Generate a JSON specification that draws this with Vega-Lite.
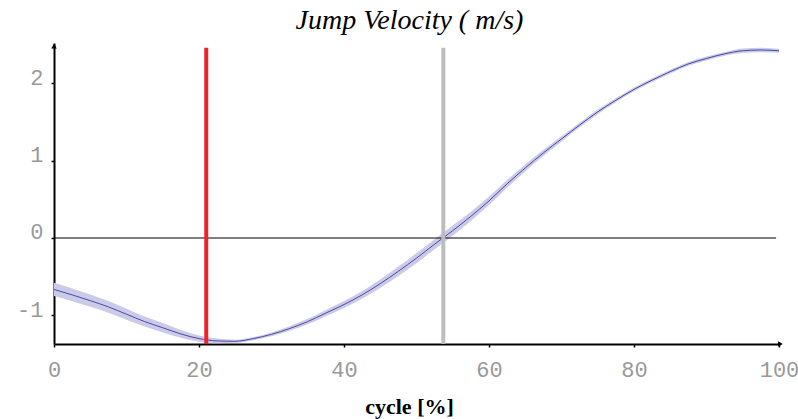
{
  "$schema": "https://vega.github.io/schema/vega-lite/v6.json",
  "width": 725,
  "height": 301,
  "autosize": "none",
  "padding": {"left": 54, "top": 43, "right": 19, "bottom": 75},
  "background": "white",
  "title": {
    "text": "Jump Velocity ( m/s)",
    "font": "Liberation Serif",
    "fontStyle": "italic",
    "fontWeight": "normal",
    "fontSize": 28,
    "color": "black",
    "anchor": "middle",
    "dx": -7,
    "dy": 24,
    "baseline": "alphabetic",
    "offset": 10
  },
  "config": {
    "view": {"stroke": null},
    "axis": {"grid": false}
  },
  "datasets": {
    "curve": [
      {"x": 0, "v": -0.665, "lo": -0.75, "hi": -0.58},
      {"x": 2.5, "v": -0.735, "lo": -0.818, "hi": -0.652},
      {"x": 5, "v": -0.81, "lo": -0.89, "hi": -0.73},
      {"x": 7.5, "v": -0.89, "lo": -0.965, "hi": -0.815},
      {"x": 10, "v": -0.985, "lo": -1.055, "hi": -0.915},
      {"x": 12.5, "v": -1.08, "lo": -1.145, "hi": -1.015},
      {"x": 15, "v": -1.16, "lo": -1.22, "hi": -1.10},
      {"x": 17.5, "v": -1.24, "lo": -1.29, "hi": -1.19},
      {"x": 20, "v": -1.30, "lo": -1.34, "hi": -1.26},
      {"x": 22.5, "v": -1.33, "lo": -1.36, "hi": -1.30},
      {"x": 25, "v": -1.335, "lo": -1.355, "hi": -1.315},
      {"x": 27.5, "v": -1.30, "lo": -1.32, "hi": -1.28},
      {"x": 30, "v": -1.245, "lo": -1.27, "hi": -1.22},
      {"x": 32.5, "v": -1.17, "lo": -1.20, "hi": -1.14},
      {"x": 35, "v": -1.08, "lo": -1.115, "hi": -1.045},
      {"x": 37.5, "v": -0.97, "lo": -1.01, "hi": -0.93},
      {"x": 40, "v": -0.86, "lo": -0.905, "hi": -0.815},
      {"x": 42.5, "v": -0.735, "lo": -0.785, "hi": -0.685},
      {"x": 45, "v": -0.59, "lo": -0.645, "hi": -0.535},
      {"x": 47.5, "v": -0.43, "lo": -0.49, "hi": -0.37},
      {"x": 50, "v": -0.26, "lo": -0.325, "hi": -0.195},
      {"x": 52.5, "v": -0.08, "lo": -0.145, "hi": -0.015},
      {"x": 55, "v": 0.095, "lo": 0.03, "hi": 0.16},
      {"x": 57.5, "v": 0.28, "lo": 0.22, "hi": 0.34},
      {"x": 60, "v": 0.48, "lo": 0.425, "hi": 0.535},
      {"x": 62.5, "v": 0.70, "lo": 0.65, "hi": 0.75},
      {"x": 65, "v": 0.905, "lo": 0.86, "hi": 0.95},
      {"x": 67.5, "v": 1.10, "lo": 1.06, "hi": 1.14},
      {"x": 70, "v": 1.28, "lo": 1.245, "hi": 1.315},
      {"x": 72.5, "v": 1.46, "lo": 1.43, "hi": 1.49},
      {"x": 75, "v": 1.63, "lo": 1.60, "hi": 1.66},
      {"x": 77.5, "v": 1.78, "lo": 1.755, "hi": 1.805},
      {"x": 80, "v": 1.92, "lo": 1.895, "hi": 1.945},
      {"x": 82.5, "v": 2.04, "lo": 2.015, "hi": 2.065},
      {"x": 85, "v": 2.15, "lo": 2.125, "hi": 2.175},
      {"x": 87.5, "v": 2.25, "lo": 2.225, "hi": 2.275},
      {"x": 90, "v": 2.32, "lo": 2.295, "hi": 2.345},
      {"x": 92.5, "v": 2.38, "lo": 2.355, "hi": 2.405},
      {"x": 95, "v": 2.42, "lo": 2.39, "hi": 2.45},
      {"x": 97.5, "v": 2.43, "lo": 2.40, "hi": 2.46},
      {"x": 100, "v": 2.42, "lo": 2.395, "hi": 2.445}
    ],
    "zero": [{"x": 0, "x2": 99.6, "y": 0}],
    "events": [
      {"event": "gray", "x": 53.7, "y": -1.37, "y2": 2.46},
      {"event": "red", "x": 21, "y": -1.37, "y2": 2.46}
    ],
    "arrows": [
      {"axis": "y", "x": 0, "y": 2.48},
      {"axis": "x", "x": 100.2, "y": -1.37}
    ]
  },
  "layer": [
    {
      "data": {"name": "curve"},
      "mark": {"type": "area", "color": "#cbcbe8", "opacity": 1, "interpolate": "monotone"},
      "encoding": {
        "x": {
          "field": "x", "type": "quantitative",
          "scale": {"domain": [0, 100], "nice": false, "zero": false},
          "axis": {
            "values": [0, 20, 40, 60, 80, 100],
            "format": "d",
            "domainColor": "black", "domainWidth": 2,
            "tickColor": "black", "tickSize": 3, "tickWidth": 1.5,
            "labelFont": "Liberation Mono", "labelFontSize": 22, "labelColor": "#999999",
            "labelPadding": 12, "labelFlush": false,
            "title": "cycle [%]",
            "titleFont": "Liberation Serif", "titleFontWeight": "bold", "titleFontSize": 22,
            "titleColor": "black", "titleX": 355, "titleY": 69, "titleBaseline": "alphabetic",
            "titleAlign": "center"
          }
        },
        "y": {
          "field": "lo", "type": "quantitative",
          "scale": {"domain": [-1.37, 2.52], "nice": false, "zero": false},
          "axis": {
            "values": [-1, 0, 1, 2],
            "format": "d",
            "domainColor": "black", "domainWidth": 2,
            "tickColor": "black", "tickSize": 3, "tickWidth": 1.5,
            "labelFont": "Liberation Mono", "labelFontSize": 22, "labelColor": "#999999",
            "labelPadding": 8, "labelOffset": -6, "labelFlush": false,
            "labelExpr": "replace(datum.label, '\u2212', '-')",
            "title": null
          }
        },
        "y2": {"field": "hi"}
      }
    },
    {
      "data": {"name": "curve"},
      "mark": {"type": "line", "color": "#4848a8", "strokeWidth": 1, "interpolate": "monotone"},
      "encoding": {
        "x": {"field": "x", "type": "quantitative"},
        "y": {"field": "v", "type": "quantitative"}
      }
    },
    {
      "data": {"name": "zero"},
      "mark": {"type": "rule", "color": "black", "strokeWidth": 1.2},
      "encoding": {
        "x": {"field": "x", "type": "quantitative"},
        "x2": {"field": "x2"},
        "y": {"field": "y", "type": "quantitative"}
      }
    },
    {
      "data": {"name": "events"},
      "mark": {"type": "rule", "strokeWidth": 4},
      "encoding": {
        "x": {"field": "x", "type": "quantitative"},
        "y": {"field": "y", "type": "quantitative"},
        "y2": {"field": "y2"},
        "color": {
          "field": "event", "type": "nominal",
          "scale": {"domain": ["gray", "red"], "range": ["#bdbdbd", "#ee2228"]},
          "legend": null
        }
      }
    },
    {
      "data": {"name": "arrows"},
      "mark": {"type": "point", "filled": true, "color": "black", "size": 30, "opacity": 1},
      "encoding": {
        "x": {"field": "x", "type": "quantitative"},
        "y": {"field": "y", "type": "quantitative"},
        "shape": {
          "field": "axis", "type": "nominal",
          "scale": {"domain": ["y", "x"], "range": ["triangle-up", "triangle-right"]},
          "legend": null
        }
      }
    }
  ]
}
